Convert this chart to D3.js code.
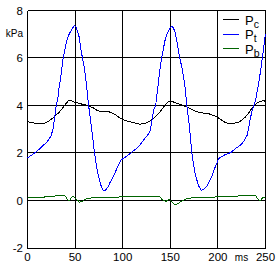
<!DOCTYPE html>
<html>
<head>
<meta charset="utf-8">
<script src="https://cdn.jsdelivr.net/npm/d3@7"></script>
<style>
  body { margin: 0; background: #fff; }
  svg { display: block; }
  text { font-family: "Liberation Sans", Arial, sans-serif; fill: #000; }
</style>
</head>
<body>
<svg width="280" height="272"></svg>
<script>
// tick values
const xTicks = [0, 50, 100, 150, 200, 250];
const yTicks = [-2, 0, 2, 4, 6, 8];

// legend entries
const seriesNames = ["c", "t", "b"];
const seriesColors = ["#000000", "#0000ff", "#006400"];

// Pc : [ms, kPa]
const pcData = [
  [0,3.32],[5,3.28],[9,3.25],[12,3.24],[16,3.25],[19,3.27],[22,3.33],[25,3.42],[28,3.52],
  [30,3.6],[33,3.7],[35,3.8],[38,3.95],[40.5,4.08],[42.5,4.18],[44,4.22],[46,4.2],[49,4.15],
  [53,4.1],[58,4.05],[62,4.01],[65,3.97],[68,3.92],[70.5,3.87],[73,3.8],[75.7,3.76],[80,3.75],
  [84.5,3.75],[88,3.7],[91,3.64],[93.5,3.58],[97,3.48],[100.3,3.4],[104,3.35],[108,3.31],
  [111,3.29],[115,3.24],[118,3.21],[121,3.23],[125,3.27],[128,3.33],[132,3.45],[135,3.56],
  [139,3.73],[142,3.88],[146,4.08],[148,4.16],[149.7,4.19],[152,4.17],[155,4.12],[158,4.08],
  [162,4.02],[165.5,3.97],[168,3.92],[171,3.87],[174,3.8],[178,3.74],[182,3.7],[186,3.67],
  [190,3.66],[194,3.6],[199,3.52],[202,3.44],[206,3.32],[209,3.27],[213,3.24],[217,3.25],
  [222,3.3],[225,3.38],[229,3.52],[232,3.66],[234.2,3.8],[237,3.93],[239.5,4.05],[243,4.15],
  [246,4.19],[248.3,4.2],[250,4.17]
];

// Pt : [ms, kPa]
const ptData = [
  [0,1.8],[4,1.9],[8,2.02],[12,2.15],[16,2.3],[20,2.45],[23,2.6],[25,2.75],[27,3.05],
  [28.6,3.5],[30.2,4.0],[32,4.35],[33.5,4.85],[35,5.2],[37.4,6.0],[40,6.5],[42.3,6.87],
  [44,7.03],[46,7.17],[48,7.3],[49.4,7.36],[51,7.3],[52.7,7.12],[54.5,6.85],[56.3,6.3],
  [58,5.95],[60,5.5],[61.6,5.0],[63,4.45],[64.2,4.0],[66,3.45],[68,2.8],[70.4,2.0],
  [72.8,1.35],[75,0.95],[77,0.65],[79,0.45],[80.5,0.4],[82,0.44],[84.5,0.57],[86.5,0.74],
  [89,0.92],[91,1.08],[93.4,1.3],[96,1.52],[98.6,1.72],[102,1.8],
  [106,1.92],[111,2.08],[115,2.2],[119,2.38],[121.5,2.52],[125,2.7],[128.5,2.88],[130.5,3.3],
  [132.5,3.8],[134.6,4.0],[136,4.45],[137.5,4.95],[139,5.5],[141,6.0],[143,6.45],[144.5,6.75],
  [146,6.95],[148,7.12],[150,7.28],[151.5,7.34],[153,7.28],[155,7.1],[157,6.7],[158.5,6.33],
  [160,6.0],[162,5.63],[164,5.2],[165.5,4.78],[167.3,4.0],[169,3.5],[170.8,2.8],[172.6,2.0],
  [174.3,1.55],[176,1.15],[178,0.85],[180,0.6],[182.5,0.42],[185,0.47],[188.5,0.6],[191,0.8],
  [193.8,1.02],[196.5,1.35],[199,1.58],[200.7,1.77],[203,1.82],[207,1.92],[211,1.98],
  [214,2.03],[218.4,2.19],[222,2.28],[225.5,2.4],[228,2.55],[230.8,2.75],[232.5,3.1],
  [234,3.45],[235.8,3.75],[237.5,3.95],[239.5,4.2],[241.3,4.6],[243,4.99],[245,5.5],
  [246.6,5.98],[248.5,6.55],[250,7.03]
];

// Pb : [ms, kPa]
const pbData = [
  [0,0.13],[17,0.13],[18,0.15],[21,0.15],[26,0.17],[30,0.2],[36,0.21],[39,0.19],[40.5,0.15],
  [42,0.04],[43,0.0],[44.5,0.02],[46,0.12],[47.5,0.18],[49,0.15],[51,0.06],[53,0.0],
  [54.5,-0.07],[56,-0.05],[58,-0.03],[60,0.03],[62,0.07],[66,0.1],[72,0.13],[85,0.14],
  [100,0.15],[104,0.15],[106,0.18],[120,0.18],[137,0.18],[139,0.16],[141,0.06],[143,0.0],
  [145,-0.04],[147,0.0],[148,0.04],[150,0.02],[152,-0.08],[154,-0.15],[156,-0.17],
  [158.5,-0.12],[161,-0.04],[164,0.02],[167,0.08],[170,0.1],[180,0.13],[200,0.15],[210,0.16],
  [220,0.17],[222,0.2],[230,0.21],[239.5,0.21],[241,0.12],[242.5,0.05],[244,0.0],
  [245.5,0.03],[247,0.13],[250,0.15]
];

const svg = d3.select("svg");

const x = d3.scaleLinear().domain([0, 250]).range([27.5, 265.5]);
const y = d3.scaleLinear().domain([-2, 8]).range([248, 10.5]);

const crisp = v => Math.floor(v) + 0.5;

// grid
const grid = svg.append("g")
  .attr("stroke", "#000")
  .attr("stroke-width", 1)
  .attr("shape-rendering", "crispEdges");

grid.selectAll("line.v")
  .data(xTicks)
  .join("line")
  .attr("class", "v")
  .attr("x1", d => crisp(x(d)))
  .attr("x2", d => crisp(x(d)))
  .attr("y1", crisp(y(8)))
  .attr("y2", crisp(y(-2)));

grid.selectAll("line.h")
  .data(yTicks)
  .join("line")
  .attr("class", "h")
  .attr("x1", crisp(x(0)))
  .attr("x2", crisp(x(250)))
  .attr("y1", d => crisp(y(d)))
  .attr("y2", d => crisp(y(d)));

// tick labels
svg.append("g")
  .selectAll("text")
  .data(yTicks)
  .join("text")
  .attr("x", 23)
  .attr("y", d => y(d) + 4)
  .attr("text-anchor", "end")
  .attr("font-size", 11.5)
  .text(d => d);

svg.append("g")
  .selectAll("text")
  .data(xTicks)
  .join("text")
  .attr("x", d => x(d))
  .attr("y", 261)
  .attr("text-anchor", "middle")
  .attr("font-size", 11.5)
  .text(d => d);

svg.append("text")
  .attr("x", 23)
  .attr("y", 37)
  .attr("text-anchor", "end")
  .attr("font-size", 10)
  .text("kPa");

svg.append("text")
  .attr("x", 241.5)
  .attr("y", 261)
  .attr("text-anchor", "middle")
  .attr("font-size", 10)
  .text("ms");

// curves
const line = d3.line()
  .x(d => x(d[0]))
  .y(d => y(d[1]));

const allSeries = [pcData, ptData, pbData];

svg.append("g")
  .attr("fill", "none")
  .attr("stroke-width", 1)
  .attr("shape-rendering", "crispEdges")
  .selectAll("path")
  .data(allSeries)
  .join("path")
  .attr("stroke", (d, i) => seriesColors[i])
  .attr("d", line);

// legend
const legend = svg.append("g")
  .selectAll("g")
  .data(seriesNames)
  .join("g")
  .attr("transform", (d, i) => `translate(0,${19.5 + i * 14.5})`);

legend.append("line")
  .attr("x1", 223)
  .attr("x2", 239)
  .attr("stroke", (d, i) => seriesColors[i])
  .attr("stroke-width", 1)
  .attr("shape-rendering", "crispEdges");

const lt = legend.append("text")
  .attr("x", 245)
  .attr("y", 5)
  .attr("font-size", 13);
lt.append("tspan").text("P");
lt.append("tspan")
  .attr("dy", 3)
  .attr("font-size", 10.5)
  .text(d => d);
</script>
</body>
</html>
